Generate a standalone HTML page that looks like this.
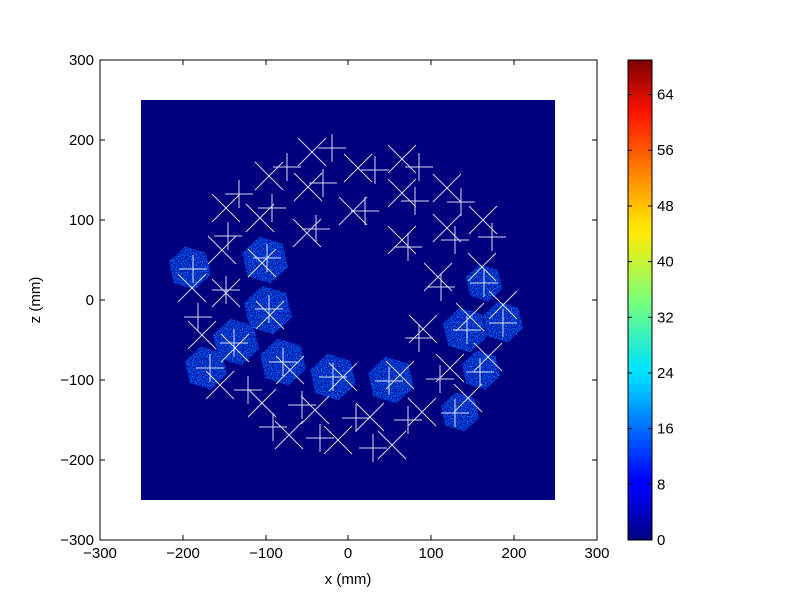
<!DOCTYPE html>
<html><head><style>body{margin:0;background:#fff}svg{display:block}text{font-family:"Liberation Sans",sans-serif;font-size:15px}</style></head>
<body>
<svg width="800" height="600" xmlns="http://www.w3.org/2000/svg">
<defs>
<linearGradient id="jet" x1="0" y1="1" x2="0" y2="0">
<stop offset="0" stop-color="#00007f"/><stop offset="0.11" stop-color="#0000ff"/><stop offset="0.125" stop-color="#0000ff"/><stop offset="0.34" stop-color="#00dcff"/><stop offset="0.36" stop-color="#00e5f7"/><stop offset="0.5" stop-color="#7dff7a"/><stop offset="0.64" stop-color="#ffea00"/><stop offset="0.66" stop-color="#ffe000"/><stop offset="0.89" stop-color="#ff1300"/><stop offset="1" stop-color="#7f0000"/>
</linearGradient>
<filter id="n"><feTurbulence type="fractalNoise" baseFrequency="0.8" numOctaves="1" seed="3"/><feColorMatrix values="0 0 0 0 0  0 0 0 0 0.2  0 0 0 0 1  0 0 0 3 -1.2"/><feComposite in2="SourceGraphic" operator="in"/></filter>
</defs>
<rect x="100" y="60" width="497" height="480" fill="#fff"/>
<rect x="141" y="100" width="414" height="400" fill="#00007f"/>
<g fill="#0514b0" opacity="0.85" id="b1"></g>
<g filter="url(#n)" fill="#000" id="b2"></g>
<g stroke="#fff" stroke-width="1" opacity="0.85" id="m"></g>
<rect x="100" y="60" width="497" height="480" fill="none" stroke="#000"/>
<g stroke="#000" id="t"></g>
<g text-anchor="middle">
<text x="100" y="558">−300</text><text x="183" y="558">−200</text><text x="266" y="558">−100</text><text x="348" y="558">0</text><text x="431" y="558">100</text><text x="514" y="558">200</text><text x="597" y="558">300</text>
<text x="348" y="584">x (mm)</text>
</g>
<g text-anchor="end">
<text x="94" y="65">300</text><text x="94" y="145">200</text><text x="94" y="225">100</text><text x="94" y="305">0</text><text x="94" y="385">−100</text><text x="94" y="465">−200</text><text x="94" y="545">−300</text>
</g>
<text x="40" y="300" text-anchor="middle" transform="rotate(-90 40 300)">z (mm)</text>
<rect x="628" y="60" width="24" height="480" fill="url(#jet)" stroke="#000"/>
<g id="cb"></g>
</svg>
<script>
var NS="http://www.w3.org/2000/svg";
function L(g,a,b,c,d){var l=document.createElementNS(NS,"line");l.setAttribute("x1",a);l.setAttribute("y1",b);l.setAttribute("x2",c);l.setAttribute("y2",d);g.appendChild(l);}
var B=[[190,268,22],[265,260,24],[268,310,25],[236,342,24],[206,368,22],[283,362,24],[333,377,24],[391,380,24],[460,412,20],[481,370,20],[503,322,21],[465,330,23],[484,283,19]];
["b1","b2"].forEach(function(id){var g=document.getElementById(id);B.forEach(function(b){var pts=[];for(var k=0;k<6;k++){var a=k*Math.PI/3+0.3;pts.push((b[0]+b[2]*Math.cos(a)).toFixed(1)+","+(b[1]+b[2]*Math.sin(a)).toFixed(1));}var p=document.createElementNS(NS,"polygon");p.setAttribute("points",pts.join(" "));g.appendChild(p);});});
var m=document.getElementById("m");
var X=[[312,152],[358,168],[402,159],[269,176],[308,187],[447,188],[402,193],[226,208],[353,211],[260,218],[483,220],[447,228],[307,233],[402,240],[222,250],[482,267],[262,263],[438,277],[192,288],[226,293],[470,317],[503,305],[270,315],[423,329],[202,335],[235,348],[488,357],[450,368],[290,370],[343,377],[400,375],[220,385],[468,398],[262,403],[315,410],[370,417],[422,412],[289,435],[338,440],[392,445]];
var P=[[332,148],[375,170],[419,167],[287,167],[323,183],[461,202],[415,201],[239,194],[365,211],[272,208],[492,237],[455,240],[316,229],[408,247],[228,236],[484,283],[267,258],[441,287],[193,269],[226,290],[467,330],[503,323],[269,309],[419,338],[198,317],[234,343],[480,372],[440,379],[283,362],[333,377],[389,381],[210,368],[455,413],[248,390],[302,405],[356,418],[408,420],[273,427],[320,438],[373,448]];
X.forEach(function(p){var s=14;L(m,p[0]-s,p[1]-s,p[0]+s,p[1]+s);L(m,p[0]-s,p[1]+s,p[0]+s,p[1]-s);});
P.forEach(function(p){var s=14;L(m,p[0]-s,p[1],p[0]+s,p[1]);L(m,p[0],p[1]-s,p[0],p[1]+s);});
var t=document.getElementById("t");
[100,183,266,348,431,514,597].forEach(function(x){L(t,x,540,x,535);L(t,x,60,x,65);});
[60,140,220,300,380,460,540].forEach(function(y){L(t,100,y,105,y);L(t,597,y,592,y);});
var cb=document.getElementById("cb");
for(var i=0;i<=8;i++){var v=i*8,y=540-v*6.96;
var g=document.createElementNS(NS,"g");g.setAttribute("stroke","#000");L(g,628,y,632,y);L(g,652,y,648,y);cb.appendChild(g);
var tx=document.createElementNS(NS,"text");tx.setAttribute("x",657);tx.setAttribute("y",y+5);tx.textContent=v;cb.appendChild(tx);}
</script>
</body></html>
